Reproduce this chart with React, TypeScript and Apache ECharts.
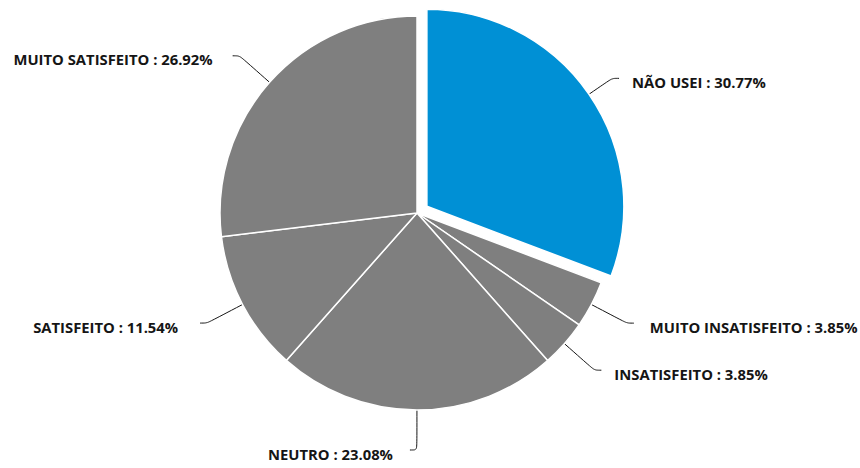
import React, { useEffect, useRef } from "react";
import * as echarts from "echarts";

const categories = [
  "NÃO USEI",
  "MUITO INSATISFEITO",
  "INSATISFEITO",
  "NEUTRO",
  "SATISFEITO",
  "MUITO SATISFEITO",
];
const percentages = [30.77, 3.85, 3.85, 23.08, 11.54, 26.92];
const colors = ["#0090d5", "#7f7f7f", "#7f7f7f", "#7f7f7f", "#7f7f7f", "#7f7f7f"];
const selectedIndex = 0;
const labelGaps = [13, 16, 13, 17, 22, 20];

export default function App() {
  const ref = useRef<HTMLDivElement>(null);
  useEffect(() => {
    if (!ref.current) return;
    const chart = echarts.init(ref.current, undefined, { renderer: "svg" });
    const common = {
      type: "pie",
      center: [417, 213],
      radius: 197,
      startAngle: 90,
      clockwise: true,
      emphasis: { disabled: true },
    };
    const textStyle = {
      fontFamily: "Open Sans",
      fontWeight: "bold",
      fontSize: 14.8,
      color: "#151515",
      padding: [7, 0, 0, 0],
    };
    chart.setOption({
      animation: false,
      series: [
        {
          ...common,
          selectedMode: "single",
          selectedOffset: 12,
          itemStyle: { borderColor: "#ffffff", borderWidth: 1.5 },
          label: { show: false },
          labelLine: { show: false },
          data: categories.map((name, i) => ({
            name,
            value: percentages[i],
            selected: i === selectedIndex,
            itemStyle: { color: colors[i] },
          })),
        },
        {
          ...common,
          silent: true,
          avoidLabelOverlap: true,
          itemStyle: { color: "rgba(0,0,0,0)", borderWidth: 0 },
          label: {
            show: true,
            formatter: (p: any) => `{t|${p.name} : ${p.value.toFixed(2)}%}`,
            fontFamily: "Open Sans",
            fontWeight: "bold",
            fontSize: 14.8,
            color: "#151515",
            overflow: "none",
            rich: { t: textStyle },
          },
          labelLine: {
            show: true,
            length: 40,
            length2: 7,
            smooth: true,
            lineStyle: { color: "#151515", width: 1 },
          },
          data: categories.map((name, i) => ({
            name,
            value: percentages[i],
            label: { distanceToLabelLine: labelGaps[i] },
          })),
        },
      ],
    });
    return () => chart.dispose();
  }, []);
  return (
    <div
      ref={ref}
      style={{ position: "fixed", left: 0, top: 0, width: 860, height: 468, background: "#ffffff" }}
    />
  );
}
